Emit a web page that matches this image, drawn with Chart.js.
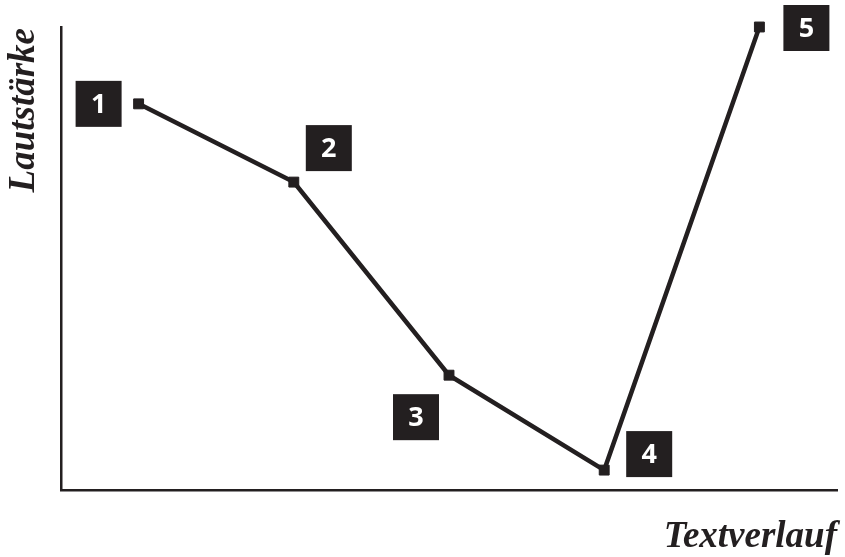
<!DOCTYPE html>
<html>
<head>
<meta charset="utf-8">
<script src="https://cdn.jsdelivr.net/npm/chart.js@4.4.1/dist/chart.umd.min.js"></script>
<style>
  html, body { margin: 0; padding: 0; background: #fff; }
  #wrap { width: 845px; height: 557px; position: relative; }
</style>
</head>
<body>
<div id="wrap"><canvas id="chart"></canvas></div>
<script>
// Laustärke over the course of a text (stages 1–5)
const stages = [1, 2, 3, 4, 5];
const volume = [83.4, 66.5, 24.8, 4.3, 100];
const stageLabels = ['1', '2', '3', '4', '5'];
const xTitle = 'Textverlauf';
const yTitle = 'Lautstärke';

const INK = '#231f20';

// label box offsets relative to each point (px)
const BOX_OFFSETS = [[-40, 0], [35, -34], [-33, 42], [45, -16], [47, 1]];

const annotate = {
  id: 'annotate',
  afterDatasetsDraw(chart) {
    const { ctx } = chart;
    const meta = chart.getDatasetMeta(0);
    ctx.save();
    meta.data.forEach((pt, i) => {
      const [dx, dy] = BOX_OFFSETS[i];
      const cx = pt.x + dx, cy = pt.y + dy;
      ctx.fillStyle = INK;
      ctx.fillRect(cx - 23, cy - 23, 46, 46);
      ctx.fillStyle = '#fff';
      ctx.font = 'bold 27px "Open Sans", sans-serif';
      ctx.textAlign = 'center';
      ctx.textBaseline = 'middle';
      ctx.fillText(stageLabels[i], cx, cy + 1);
    });

    // axis titles
    const area = chart.chartArea;
    ctx.fillStyle = INK;
    ctx.font = 'italic bold 37px "Liberation Serif", serif';
    ctx.textAlign = 'right';
    ctx.textBaseline = 'alphabetic';
    ctx.fillText(xTitle, area.right, 547);

    ctx.translate(34, area.top + 1);
    ctx.rotate(-Math.PI / 2);
    ctx.textAlign = 'right';
    ctx.fillText(yTitle, 0, 0);
    ctx.restore();
  },
};

new Chart(document.getElementById('chart'), {
  type: 'line',
  data: {
    datasets: [{
      data: stages.map((s, i) => ({ x: s, y: volume[i] })),
      borderColor: INK,
      borderWidth: 4.5,
      pointStyle: 'rect',
      pointRadius: 7,
      pointBackgroundColor: INK,
      pointBorderColor: INK,
      pointBorderWidth: 1,
      tension: 0,
      clip: false,
    }],
  },
  options: {
    responsive: true,
    maintainAspectRatio: false,
    animation: false,
    events: [],
    layout: { padding: { left: 61, top: 27, right: 6, bottom: 67 } },
    plugins: { legend: { display: false }, tooltip: { enabled: false } },
    scales: {
      x: {
        type: 'linear',
        min: 0.5,
        max: 5.5,
        grid: { display: false },
        ticks: { display: false },
        border: { display: true, color: INK, width: 2.5 },
        afterFit: (s) => { s.height = 0; },
      },
      y: {
        min: 0,
        max: 100,
        grid: { display: false },
        ticks: { display: false },
        border: { display: true, color: INK, width: 2.5 },
        afterFit: (s) => { s.width = 0; },
      },
    },
  },
  plugins: [annotate],
});
</script>
</body>
</html>
